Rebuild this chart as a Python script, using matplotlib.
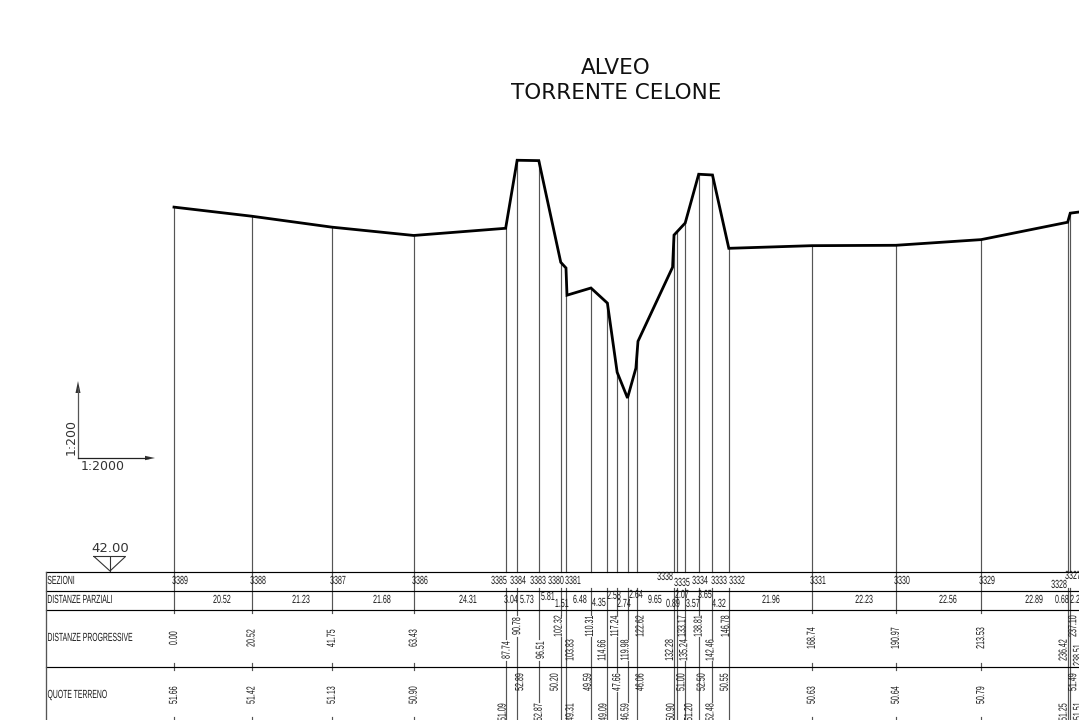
#profilo longitudinale alveo torrente Celone
import numpy as np
import matplotlib
matplotlib.use('Agg')
import matplotlib.pyplot as plt
from matplotlib.patheffects import AbstractPathEffect
from matplotlib.transforms import Affine2D, blended_transform_factory

# sezioni: distanze progressive (stringhe come in tavola) e quote terreno
prog_labels = ['0.00', '20.52', '41.75', '63.43', '87.74', '90.78', '96.51', '102.32',
               '103.83', '110.31', '114.66', '117.24', '119.98', '122.62', '132.28',
               '133.17', '135.24', '138.81', '142.46', '146.78', '168.74', '190.97',
               '213.53', '236.42', '237.10']
quote_labels = ['51.66', '51.42', '51.13', '50.90', '51.09', '52.89', '52.87', '50.20',
                '49.31', '49.59', '49.09', '47.66', '46.59', '46.06', '50.90',
                '51.00', '51.20', '52.50', '52.48', '50.55', '50.63', '50.64',
                '50.79', '51.25', '51.49']
progressive = np.array([float(v) for v in prog_labels])

# linea del terreno
profile_x = [0.00, 20.52, 41.75, 63.43, 87.74, 90.78, 96.51, 102.32, 103.70, 103.97,
             110.31, 114.66, 117.24, 119.98, 122.20, 122.75, 131.90, 132.28, 135.24,
             138.81, 142.46, 146.78, 168.74, 190.97, 213.53, 236.42, 237.10, 239.40]
profile_z = [51.66, 51.42, 51.13, 50.91, 51.10, 52.90, 52.89, 50.20, 50.05, 49.33,
             49.52, 49.12, 47.29, 46.61, 47.40, 48.11, 50.07, 50.92, 51.24,
             52.53, 52.51, 50.57, 50.64, 50.65, 50.80, 51.26, 51.50, 51.53]
datum = 42.00

sez_labels = ['3389', '3388', '3387', '3386', '3385', '3384', '3383', '3380', '3381',
              '3338', '3335', '3334', '3333', '3332', '3331', '3330', '3329', '3328', '3327']
sez_x = [180, 258, 338, 420, 499, 518, 538, 556, 573, 665, 682, 700, 719, 737, 818, 902,
         987, 1059, 1073]
sez_y = [581] * 9 + [577, 583] + [581] * 6 + [585, 576]

parz_labels = ['20.52', '21.23', '21.68', '24.31', '3.04', '5.73', '5.81', '1.51', '6.48',
               '4.35', '2.58', '2.74', '2.64', '9.65', '0.89', '2.07', '3.57', '3.65',
               '4.32', '21.96', '22.23', '22.56', '22.89', '0.68', '2.29']
parz_x = [222, 301, 382, 468, 511, 527, 548, 562, 580, 599, 614, 624, 636, 655, 673, 682,
          693, 705, 719, 771, 864, 948, 1034, 1062, 1077]
parz_y = [600, 600, 600, 600, 600, 600, 597, 604, 600, 603, 596, 604, 595, 600, 604, 595,
          604, 595, 604, 600, 600, 600, 600, 600, 600]

# spostamento in pixel dei numeri nelle sezioni fitte, rispetto alla verticale
prog_dx = [1, 0, 2, -2, 4, -1, -5, -2, -2, 3, -4, 5, -1, 0, -2, -3, -4, 3]
quote_dx = [-3, 3, 0, -6, 4, -3, -4, 0, -2, 3, -3, 4, 4, 3, -2, -4, -4, 3]

row_names = ['SEZIONI', 'DISTANZE PARZIALI', 'DISTANZE PROGRESSIVE', 'QUOTE TERRENO']
row_names_y = [581, 600, 638, 695]
row_lines_y = [572, 591, 610, 667]


class Narrow(AbstractPathEffect):
    # testo stretto come il font CAD: scala i glifi lungo la riga
    def __init__(self, sx):
        super().__init__()
        self.sx = sx

    def draw_path(self, renderer, gc, tpath, affine, rgbFace=None):
        v = tpath.vertices[:, 0]
        cx = (v.min() + v.max()) / 2
        t = Affine2D().translate(-cx, 0).scale(self.sx, 1).translate(cx, 0) + affine
        renderer.draw_path(gc, tpath, t, rgbFace)


cad = dict(family=['Liberation Sans', 'DejaVu Sans'], fontsize=8.5, color='#1a1a1a',
           path_effects=[Narrow(0.6)])

fig = plt.figure(figsize=(10.79, 7.2), dpi=100)
# assi in metri/quote (1:2000, 1:200) e assi in pixel per il cartiglio
ax = fig.add_axes([0, 0, 1, 1])
ax.set_xlim(-46.03, 239.42)
ax.set_ylim(38.09, 57.14)
ax.axis('off')
lay = fig.add_axes([0, 0, 1, 1])
lay.set_xlim(0, 1079)
lay.set_ylim(720, 0)
lay.axis('off')
lay.patch.set_alpha(0)
mixed = blended_transform_factory(ax.transData, lay.transData)
to_px = 1079 / (239.42 + 46.03)

ax.plot(profile_x, profile_z, color='black', lw=2.0, solid_joinstyle='miter', zorder=3)

# verticali di sezione con le interruzioni attorno ai numeri
vert_kw = dict(color='#555555', lw=0.85, zorder=2)
crowded = [i for i, d in enumerate(progressive) if 80 < d < 150 or d > 230]
terrain = np.interp(progressive, profile_x, profile_z)
for i, d in enumerate(progressive):
    ax.plot([d, d], [datum, terrain[i]], **vert_kw)
    dxp = dxq = 0
    if i in crowded:
        k = crowded.index(i)
        lower = k % 2 == 0
        dxp, dxq = prog_dx[k], quote_dx[k]
        yp = 650 if lower else 626
        yq = 712 if lower else 682
        # la verticale si ferma solo dove il numero ci cade sopra
        pieces = [(588, 720)]
        if abs(dxp) < 3 and abs(dxq) < 3:
            pieces = [(588, yp - 11), (yp + 11, yq - 10), (yq + 10, 720)]
        elif abs(dxp) < 3:
            pieces = [(588, yp - 11), (yp + 11, 720)]
        elif abs(dxq) < 3:
            pieces = [(588, yq - 10), (yq + 10, 720)]
    else:
        yp, yq = 638, 695
        pieces = [(572, 613), (663, 670), (717, 720)]
    for y0, y1 in pieces:
        lay.add_line(plt.Line2D([d, d], [y0, y1], transform=mixed, **vert_kw))
    px = (d + 46.03) * to_px
    lay.text(px + dxp, yp, prog_labels[i], rotation=90, ha='center', va='center', **cad)
    lay.text(px + dxq, yq, quote_labels[i], rotation=90, ha='center', va='center', **cad)

# sezione successiva, tagliata dal bordo
lay.text(1078, 655, '238.51', rotation=90, ha='center', va='center', **cad)
lay.text(1078, 711, '51.51', rotation=90, ha='center', va='center', **cad)

# cartiglio
for y in row_lines_y:
    lay.plot([46, 1079], [y, y], color='black', lw=0.85, zorder=2)
lay.plot([46, 46], [572, 720], color='#555555', lw=0.95, zorder=2)
for name, y in zip(row_names, row_names_y):
    t = lay.text(47.5, y, name, ha='left', va='center', family=cad['family'], fontsize=8.5,
                 color='#1a1a1a')
    # larghezza del testo pieno per ancorare a sinistra dopo il restringimento
    w = t.get_window_extent(fig.canvas.get_renderer()).width
    t.set_x(47.5 - w * (1 - 0.58) / 2)
    t.set_path_effects([Narrow(0.58)])
for t, x, y in zip(sez_labels, sez_x, sez_y):
    lay.text(x, y, t, ha='center', va='center', **cad)
for t, x, y in zip(parz_labels, parz_x, parz_y):
    lay.text(x, y, t, ha='center', va='center', **cad)

# titolo
lay.text(616, 68, 'ALVEO', ha='center', va='center', fontsize=15.5, color='#111111')
lay.text(616, 93, 'TORRENTE CELONE', ha='center', va='center', fontsize=15.5, color='#111111')

# scala
lay.plot([78, 78], [458, 388], color='#555555', lw=0.9)
lay.plot([78, 148], [458, 458], color='#222222', lw=0.9)
lay.fill([75.5, 80.5, 78], [393, 393, 381], color='#333333', lw=0)
lay.fill([145, 145, 155], [455.8, 460.2, 458], color='#333333', lw=0)
lay.text(71, 437, '1:200', rotation=90, ha='center', va='center', fontsize=9, color='#333333')
lay.text(103, 466, '1:2000', ha='center', va='center', fontsize=9, color='#333333')

# quota di riferimento
lay.plot([94, 125.5, 110, 94], [556.5, 556.5, 571, 556.5], color='#333333', lw=0.8)
lay.plot([110, 110], [556.5, 571], color='#333333', lw=0.8)
lay.text(110, 549, '%.2f' % datum, ha='center', va='center', fontsize=9.5, color='#333333')

fig.savefig('out.png', dpi=100)
